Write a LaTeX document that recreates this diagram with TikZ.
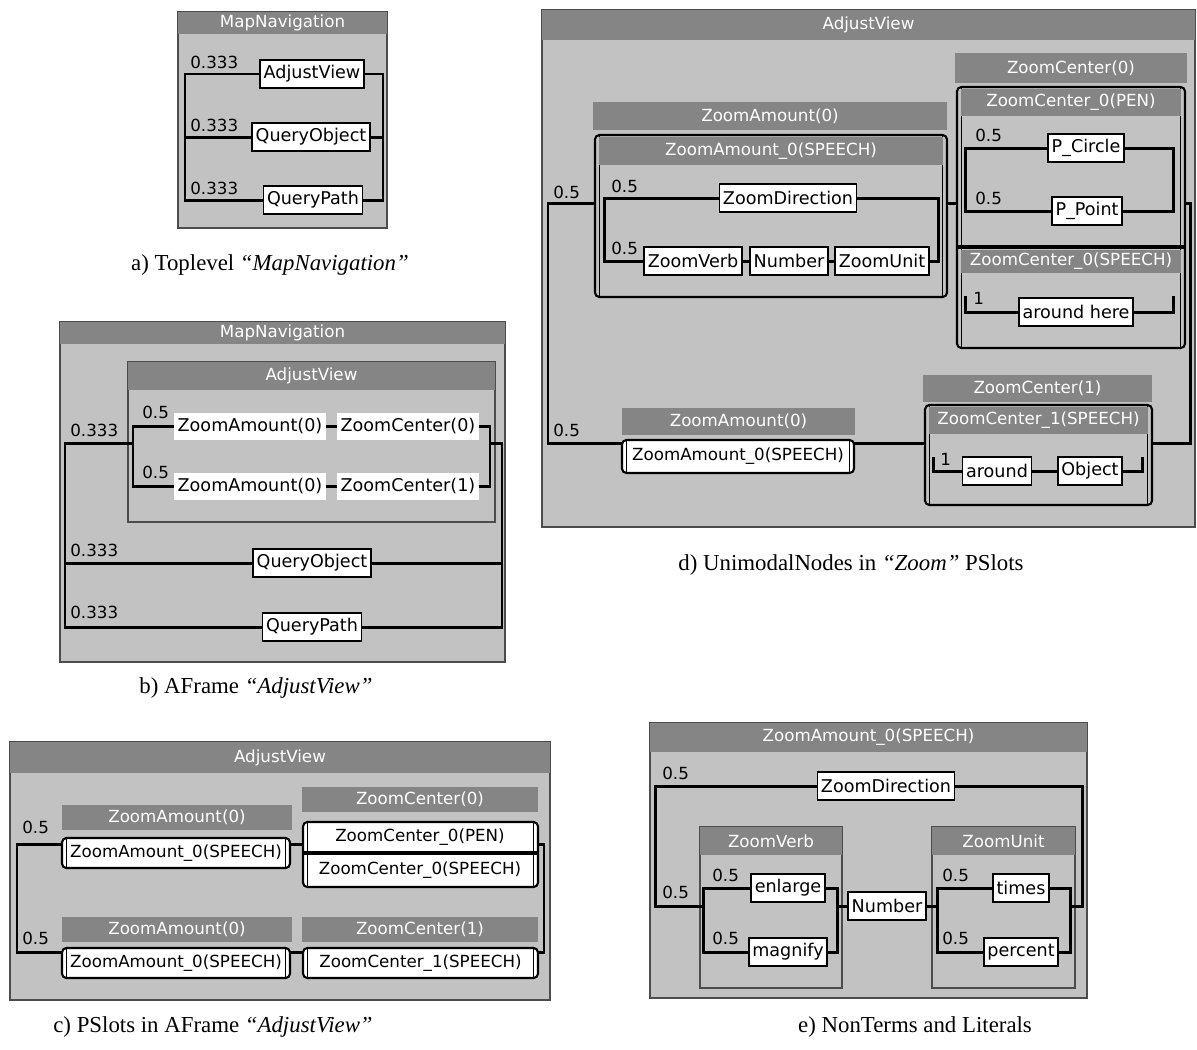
\documentclass[tikz,border=0pt]{standalone}
\usepackage{fontspec}
\setmainfont{Liberation Serif}
\newfontfamily\guifont{DejaVu Sans}
\usetikzlibrary{calc, positioning}

\definecolor{panel}{gray}{0.76}
\definecolor{hdrgray}{gray}{0.52}

\tikzset{
    panelbox/.style 2 args={draw=black!70, line width=0.6pt, fill=panel, inner sep=0pt, outer sep=0pt,
        anchor=north west, minimum width=#1*0.02cm, minimum height=#2*0.02cm},
    hdrbar/.style 2 args={fill=hdrgray, text=white, font=\guifont\fontsize{9.5}{11}\selectfont, inner sep=0pt,
        outer sep=0pt, anchor=north west, minimum width=#1*0.02cm, minimum height=#2*0.02cm},
    leafbox/.style={draw, line width=0.9pt, fill=white, font=\guifont\fontsize{10}{12}\selectfont,
        inner xsep=2pt, inner ysep=0pt, minimum height=0.56cm, outer sep=0pt},
    plainbox/.style={fill=white, font=\guifont\fontsize{10}{12}\selectfont, inner xsep=2pt, inner ysep=0pt,
        minimum height=0.54cm, outer sep=0pt},
    slotbox/.style 2 args={draw, line width=1.2pt, rounded corners=2.5pt, fill=white, inner sep=0pt, outer sep=0pt,
        font=\guifont\fontsize{9.5}{11}\selectfont, minimum width=#1*0.02cm, minimum height=#2*0.02cm,
        path picture={\draw[line width=0.6pt]
            ([xshift=2.6pt]path picture bounding box.north west) -- ([xshift=2.6pt]path picture bounding box.south west)
            ([xshift=-2.6pt]path picture bounding box.north east) -- ([xshift=-2.6pt]path picture bounding box.south east);}},
    cslotbox/.style 2 args={slotbox={#1}{#2}, fill=panel, anchor=north west},
    weight/.style={font=\guifont\fontsize{9.5}{11}\selectfont, inner sep=0pt, anchor=south west},
    wire/.style={line width=1.7pt},
    captxt/.style={font=\fontsize{13}{15}\selectfont}
}

\begin{document}
\begin{tikzpicture}[x=0.02cm, y=-0.02cm]
\useasboundingbox (0,0) rectangle (1197,1049);

% a) toplevel
\node[panelbox={209}{216}] (aF) at (178,12) {};
\node[hdrbar={209}{22}] (aH) at (178,12) {MapNavigation};
\node[leafbox] (aAdj) at (312,74) {AdjustView};
\node[leafbox] (aQob) at (311,137) {QueryObject};
\node[leafbox] (aQpa) at (313,200) {QueryPath};
\coordinate (aL) at (185,74);
\coordinate (aR) at (383,74);
\draw[wire] (aAdj.west) -- (aAdj.west -| aL) |- (aQpa.west);
\draw[wire] (aQob.west) -- (aQob.west -| aL);
\draw[wire] (aAdj.east) -- (aAdj.east -| aR) |- (aQpa.east);
\draw[wire] (aQob.east) -- (aQob.east -| aR);
\node[weight] at (190,69) {0.333};
\node[weight] at (190,132) {0.333};
\node[weight] at (190,195) {0.333};
\node[captxt] (aCap) at (270,265) {a) Toplevel \textit{“MapNavigation”}};

% b) aframe
\node[panelbox={445}{340}] (bF) at (60,322) {};
\node[hdrbar={445}{22}] (bH) at (60,322) {MapNavigation};
\node[panelbox={367}{160}] (bAV) at (128,362) {};
\node[hdrbar={367}{28}] (bAVh) at (128,362) {AdjustView};
\node[plainbox] (bZA1) at (250,426) {ZoomAmount(0)};
\node[plainbox] (bZC1) at (408,426) {ZoomCenter(0)};
\node[plainbox] (bZA2) at (250,486) {ZoomAmount(0)};
\node[plainbox] (bZC2) at (408,486) {ZoomCenter(1)};
\coordinate (bIL) at (133,426);
\coordinate (bIR) at (490,426);
\draw[wire] (bZA1.west) -- (bZA1.west -| bIL) |- (bZA2.west);
\draw[wire] (bZC1.east) -- (bZC1.east -| bIR) |- (bZC2.east);
\draw[wire] (bZA1.east) -- (bZC1.west);
\draw[wire] (bZA2.east) -- (bZC2.west);
\node[leafbox] (bQob) at (312,563) {QueryObject};
\node[leafbox] (bQpa) at (312,627) {QueryPath};
\coordinate (bOL) at (65,443);
\coordinate (bOR) at (502,443);
\draw[wire] (bIL |- bOL) -- (bOL) |- (bQpa.west);
\draw[wire] (bQob.west) -- (bQob.west -| bOL);
\draw[wire] (bIR |- bOR) -- (bOR) |- (bQpa.east);
\draw[wire] (bQob.east) -- (bQob.east -| bOR);
\node[weight] at (70,437) {0.333};
\node[weight] at (70,557) {0.333};
\node[weight] at (70,619) {0.333};
\node[weight] at (142,419) {0.5};
\node[weight] at (142,479) {0.5};
\node[captxt] (bCap) at (256,688) {b) AFrame \textit{“AdjustView”}};

% c) pslots
\node[panelbox={540}{258}] (cF) at (10,742) {};
\node[hdrbar={540}{31}] (cH) at (10,742) {AdjustView};
\node[hdrbar={230}{25}] (cZAh1) at (62,805) {ZoomAmount(0)};
\node[slotbox={228}{30}, anchor=north west] (cZA1) at (62,838) {ZoomAmount\_0(SPEECH)};
\node[hdrbar={236}{25}] (cZCh0) at (302,787) {ZoomCenter(0)};
\node[slotbox={235}{65}, anchor=north west] (cZC0) at (303,822) {};
\node[plainbox, fill=none, font=\guifont\fontsize{9.5}{11}\selectfont] (cPen) at (420,837) {ZoomCenter\_0(PEN)};
\node[plainbox, fill=none, font=\guifont\fontsize{9.5}{11}\selectfont] (cSpc) at (420,870) {ZoomCenter\_0(SPEECH)};
\coordinate (cSep) at (303,853);
\draw[line width=2.2pt] (cSep) -- (cSep -| cZC0.east);
\node[hdrbar={230}{25}] (cZAh2) at (62,917) {ZoomAmount(0)};
\node[slotbox={228}{30}, anchor=north west] (cZA2) at (62,948) {ZoomAmount\_0(SPEECH)};
\node[hdrbar={236}{25}] (cZCh1) at (302,917) {ZoomCenter(1)};
\node[slotbox={235}{30}, anchor=north west] (cZC1) at (303,948) {ZoomCenter\_1(SPEECH)};
\coordinate (cL) at (17,843);
\coordinate (cR) at (544,843);
\coordinate (cA1) at ($(cZA1.north west)+(0,6)$);
\coordinate (cA2) at ($(cZA2.north west)+(0,4)$);
\draw[wire] (cA1) -- (cA1 -| cL) |- (cA2);
\draw[wire] (cA1 -| cZA1.east) -- (cA1 -| cZC0.west);
\draw[wire] (cA2 -| cZA2.east) -- (cA2 -| cZC1.west);
\draw[wire] (cA1 -| cZC0.east) -- (cA1 -| cR) |- (cA2 -| cZC1.east);
\node[weight] at (22,834) {0.5};
\node[weight] at (22,945) {0.5};
\node[captxt] (cCap) at (213,1027) {c) PSlots in AFrame \textit{“AdjustView”}};

% d) unimodal nodes
\node[panelbox={653}{517}] (dF) at (542,10) {};
\node[hdrbar={653}{30}] (dH) at (542,10) {AdjustView};
\node[hdrbar={354}{28}] (dZAh) at (593,102) {ZoomAmount(0)};
\node[cslotbox={352}{162}] (dZAs) at (595,135) {};
\node[hdrbar={344}{28}] (dZAsh) at (599,137) {ZoomAmount\_0(SPEECH)};
\node[leafbox] (dZD) at (788,198) {ZoomDirection};
\node[leafbox] (dZV) at (693,261) {ZoomVerb};
\node[leafbox] (dNum) at (789,261) {Number};
\node[leafbox] (dZU) at (882,261) {ZoomUnit};
\coordinate (dIL) at (604,200);
\coordinate (dIR) at (938,200);
\draw[wire] (dZD.west) -- (dZD.west -| dIL) |- (dZV.west);
\draw[wire] (dZD.east) -- (dZD.east -| dIR) |- (dZU.east);
\draw[wire] (dZV.east) -- (dNum.west);
\draw[wire] (dNum.east) -- (dZU.west);
\node[weight] at (611,193) {0.5};
\node[weight] at (611,255) {0.5};
\node[hdrbar={232}{30}] (dZCh) at (955,53) {ZoomCenter(0)};
\node[cslotbox={228}{261}] (dZCs) at (957,87) {};
\node[hdrbar={220}{27}] (dZCph) at (961,89) {ZoomCenter\_0(PEN)};
\node[leafbox] (dPC) at (1086,148) {P\_Circle};
\node[leafbox] (dPP) at (1087,211) {P\_Point};
\coordinate (dPL) at (965,148);
\coordinate (dPR) at (1173,148);
\draw[wire] (dPC.west) -- (dPC.west -| dPL) |- (dPP.west);
\draw[wire] (dPC.east) -- (dPC.east -| dPR) |- (dPP.east);
\node[weight] at (975,142) {0.5};
\node[weight] at (975,205) {0.5};
\coordinate (dSep) at (957,247);
\draw[line width=2.4pt] (dSep) -- (dSep -| dZCs.east);
\node[hdrbar={220}{23}] (dZCsh) at (961,250) {ZoomCenter\_0(SPEECH)};
\node[leafbox] (dAh) at (1076,312) {around here};
\coordinate (dHL) at (965,296);
\coordinate (dHR) at (1173,296);
\draw[wire] (dHL) |- (dAh.west);
\draw[wire] (dHR) |- (dAh.east);
\node[weight] at (973,305) {1};
\node[hdrbar={233}{27}] (dZAh2) at (622,408) {ZoomAmount(0)};
\node[slotbox={232}{33}, anchor=north west] (dZA2) at (622,440) {ZoomAmount\_0(SPEECH)};
\node[hdrbar={229}{27}] (dZCh1) at (923,375) {ZoomCenter(1)};
\node[cslotbox={227}{100}] (dZC1s) at (925,405) {};
\node[hdrbar={219}{27}] (dZC1sh) at (929,407) {ZoomCenter\_1(SPEECH)};
\node[leafbox] (dAr) at (997,471) {around};
\node[leafbox] (dObj) at (1090,471) {Object};
\coordinate (dRL) at (933,457);
\coordinate (dRR) at (1142,457);
\draw[wire] (dRL) |- (dAr.west);
\draw[wire] (dAr.east) -- (dObj.west);
\draw[wire] (dRR) |- (dObj.east);
\node[weight] at (940,466) {1};
\coordinate (dOL) at (548,203);
\coordinate (dOL2) at (548,443);
\coordinate (dOR) at (1190,203);
\coordinate (dOR2) at (1190,443);
\draw[wire] (dOL -| dZAs.west) -- (dOL) -- (dOL2) -- (dOL2 -| dZA2.west);
\draw[wire] (dOL -| dZAs.east) -- (dOL -| dZCs.west);
\draw[wire] (dOR -| dZCs.east) -- (dOR) -- (dOR2) -- (dOR2 -| dZC1s.east);
\draw[wire] (dOL2 -| dZA2.east) -- (dOL2 -| dZC1s.west);
\node[weight] at (553,199) {0.5};
\node[weight] at (553,437) {0.5};
\node[captxt] (dCap) at (851,565) {d) UnimodalNodes in \textit{“Zoom”} PSlots};

% e) nonterms and literals
\node[panelbox={437}{275}] (eF) at (650,723) {};
\node[hdrbar={437}{29}] (eH) at (650,723) {ZoomAmount\_0(SPEECH)};
\node[leafbox] (eZD) at (886,786) {ZoomDirection};
\node[panelbox={142}{161}] (eZV) at (700,827) {};
\node[hdrbar={142}{28}] (eZVh) at (700,827) {ZoomVerb};
\node[leafbox] (eEn) at (788,888) {enlarge};
\node[leafbox] (eMa) at (788,952) {magnify};
\node[leafbox] (eNum) at (887,906) {Number};
\node[panelbox={143}{161}] (eZU) at (932,827) {};
\node[hdrbar={143}{28}] (eZUh) at (932,827) {ZoomUnit};
\node[leafbox] (eTi) at (1021,888) {times};
\node[leafbox] (ePe) at (1021,952) {percent};
\coordinate (eOL) at (655,786);
\coordinate (eOR) at (1082,786);
\coordinate (eM) at (655,906);
\coordinate (eVL) at (703,888);
\coordinate (eVR) at (837,888);
\coordinate (eUL) at (937,888);
\coordinate (eUR) at (1070,888);
\draw[wire] (eZD.west) -- (eZD.west -| eOL) -- (eM) -- (eM -| eVL);
\draw[wire] (eEn.west) -- (eEn.west -| eVL) |- (eMa.west);
\draw[wire] (eEn.east) -- (eEn.east -| eVR) |- (eMa.east);
\draw[wire] (eNum.west) -- (eNum.west -| eVR);
\draw[wire] (eNum.east) -- (eNum.east -| eUL);
\draw[wire] (eTi.west) -- (eTi.west -| eUL) |- (ePe.west);
\draw[wire] (eTi.east) -- (eTi.east -| eUR) |- (ePe.east);
\draw[wire] (eZD.east) -- (eZD.east -| eOR) |- (eNum.east -| eUR);
\node[weight] at (662,780) {0.5};
\node[weight] at (662,899) {0.5};
\node[weight] at (712,882) {0.5};
\node[weight] at (712,945) {0.5};
\node[weight] at (942,882) {0.5};
\node[weight] at (942,945) {0.5};
\node[captxt] (eCap) at (915,1027) {e) NonTerms and Literals};

\end{tikzpicture}
\end{document}
